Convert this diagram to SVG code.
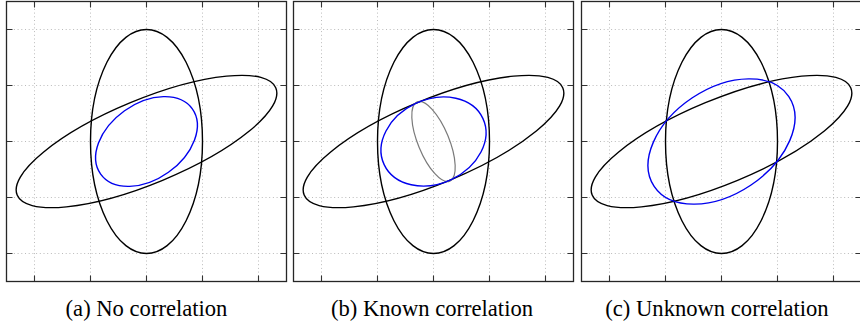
<svg xmlns="http://www.w3.org/2000/svg" xmlns:xlink="http://www.w3.org/1999/xlink" width="860" height="326" viewBox="0 0 860 326">
<style>
.grid{stroke:#b3b3b3;stroke-width:0.9;stroke-dasharray:1 2.7;fill:none}
.tick{stroke:#333;stroke-width:1.1;fill:none}
.frame{stroke:#262626;stroke-width:1.3;fill:none}
.blk{stroke:#000;stroke-width:1.4;fill:none}
.blue{stroke:#0000ee;stroke-width:1.4;fill:none}
.gray{stroke:#7a7a7a;stroke-width:1.2;fill:none}
.cap{font-family:"Liberation Serif","Times New Roman",serif;font-size:22.6px;fill:#000;text-anchor:middle}
</style>
<defs>
<g id="axes">
<path class="grid" d="M28 0V280M84 0V280M140 0V280M196 0V280M252 0V280M0 28H280M0 84H280M0 140H280M0 196H280M0 252H280"/>
<path class="tick" d="M28 0v6M84 0v6M140 0v6M196 0v6M252 0v6M28 280v-6M84 280v-6M140 280v-6M196 280v-6M252 280v-6M0 28h6M0 84h6M0 140h6M0 196h6M0 252h6M280 28h-6M280 84h-6M280 140h-6M280 196h-6M280 252h-6"/>
<rect class="frame" x="0" y="0" width="280" height="280"/>
</g>
<g id="sensors">
<ellipse class="blk" cx="140" cy="140" rx="56" ry="112"/>
<ellipse class="blk" cx="140" cy="140" rx="140" ry="42" transform="rotate(-22.5 140 140)"/>
</g>
</defs>
<g id="panel-a" transform="translate(6.5 1.5)">
<use xlink:href="#axes"/>
<use xlink:href="#sensors"/>
<ellipse class="blue" cx="140" cy="140" rx="56.3" ry="37.8" transform="rotate(-35.5 140 140)"/>
</g>
<g id="panel-b" transform="translate(293.5 1.5)">
<use xlink:href="#axes"/>
<use xlink:href="#sensors"/>
<ellipse class="gray" cx="140" cy="140" rx="15.5" ry="42.8" transform="rotate(-22.4 140 140)"/>
<ellipse class="blue" cx="140" cy="140" rx="54.5" ry="42" transform="rotate(-25.1 140 140)"/>
</g>
<g id="panel-c" transform="translate(581.5 1.5)">
<use xlink:href="#axes"/>
<use xlink:href="#sensors"/>
<ellipse class="blue" cx="140" cy="140" rx="80.95" ry="52.54" transform="rotate(-33.7 140 140)"/>
</g>
<g id="connectors"/>
<g id="captions">
<text class="cap" x="146.5" y="316">(a) No correlation</text>
<text class="cap" x="432" y="316">(b) Known correlation</text>
<text class="cap" x="717" y="316">(c) Unknown correlation</text>
</g>
</svg>
